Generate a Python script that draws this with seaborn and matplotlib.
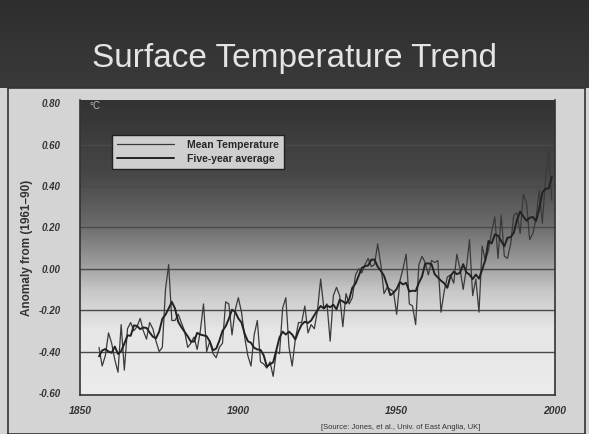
import numpy as np
import pandas as pd
import matplotlib
matplotlib.use("Agg")
import matplotlib.pyplot as plt
import seaborn as sns
from matplotlib.colors import LinearSegmentedColormap

# ---- data (anomaly in deg C vs 1961-90) ----
years = list(range(1856, 2000))
mean_temp = [
    -0.38, -0.47, -0.42, -0.31, -0.36, -0.44, -0.50, -0.27, -0.49, -0.29,
    -0.26, -0.30, -0.28, -0.24, -0.30, -0.34, -0.26, -0.29, -0.35, -0.40,
    -0.38, -0.10, 0.02, -0.25, -0.25, -0.22, -0.26, -0.30, -0.38, -0.36,
    -0.33, -0.39, -0.30, -0.17, -0.40, -0.35, -0.41, -0.43, -0.38, -0.36,
    -0.16, -0.17, -0.32, -0.20, -0.14, -0.21, -0.33, -0.42, -0.47, -0.32,
    -0.25, -0.45, -0.46, -0.48, -0.45, -0.52, -0.40, -0.41, -0.19, -0.14,
    -0.38, -0.47, -0.34, -0.26, -0.26, -0.18, -0.31, -0.27, -0.29, -0.20,
    -0.05, -0.19, -0.17, -0.35, -0.13, -0.09, -0.13, -0.28, -0.12, -0.17,
    -0.14, -0.03, 0.00, -0.02, 0.02, 0.05, 0.01, 0.02, 0.12, 0.02,
    -0.12, -0.09, -0.10, -0.11, -0.22, -0.06, 0.00, 0.07, -0.17, -0.18,
    -0.27, 0.02, 0.06, 0.03, -0.03, 0.04, 0.03, 0.04, -0.21, -0.11,
    -0.04, -0.03, -0.07, 0.07, 0.00, -0.10, 0.00, 0.14, -0.13, -0.05,
    -0.21, 0.11, 0.04, 0.09, 0.18, 0.25, 0.05, 0.26, 0.06, 0.05,
    0.12, 0.26, 0.27, 0.17, 0.36, 0.32, 0.14, 0.17, 0.24, 0.38,
    0.22, 0.43, 0.57, 0.33,
]
y_ticks = [-0.60, -0.40, -0.20, 0.00, 0.20, 0.40, 0.60, 0.80]
y_tick_labels = ["-0.60", "-0.40", "-0.20", "0.00", "0.20", "0.40", "0.60", "0.80"]
x_ticks = [1850, 1900, 1950, 2000]
x_tick_labels = ["1850", "1900", "1950", "2000"]
series_names = ["Mean Temperature", "Five-year average"]

df = pd.DataFrame({"year": years, "anomaly": mean_temp})
df["smooth"] = df["anomaly"].rolling(5, center=True, min_periods=3).mean()

# ---- figure ----
sns.set_theme(style="white")
plt.rcParams["font.family"] = ["Liberation Sans", "DejaVu Sans"]

fig = plt.figure(figsize=(5.89, 4.34), dpi=100)
fig.patch.set_facecolor("#d4d4d4")

# title banner
ban = fig.add_axes([0, 1 - 88 / 434, 1, 88 / 434])
ban.set_xlim(0, 1); ban.set_ylim(0, 1)
grad_b = np.linspace(0, 1, 50).reshape(-1, 1)
ban.imshow(grad_b, extent=[0, 1, 0, 1], aspect="auto",
           cmap=LinearSegmentedColormap.from_list("b", ["#3a3a3a", "#2e2e2e"]),
           origin="lower")
ban.axis("off")
ban.text(0.5, 0.33, "Surface Temperature Trend", ha="center", va="center",
         color="#e4e4e4", fontsize=24)

# lower panel frame
frame = fig.add_axes([8 / 589, 0, 577 / 589, 346 / 434])
frame.set_xticks([]); frame.set_yticks([])
frame.patch.set_alpha(0)
for s in frame.spines.values():
    s.set_color("#333333"); s.set_linewidth(1.2)

# main plot
ax = fig.add_axes([80 / 589, 1 - 395 / 434, 475 / 589, 295 / 434])
ax.set_xlim(1850, 2000)
ax.set_ylim(-0.61, 0.815)

grad = np.linspace(0, 1, 200).reshape(-1, 1)
cmap_bg = LinearSegmentedColormap.from_list(
    "bg", [(0.0, "#ececec"), (0.22, "#e6e6e6"), (0.35, "#c8c8c8"),
           (0.45, "#9a9a9a"), (0.58, "#6a6a6a"), (0.75, "#474747"),
           (1.0, "#333333")])
ax.imshow(grad, extent=[1850, 2000, -0.61, 0.815], aspect="auto",
          cmap=cmap_bg, origin="lower", zorder=0)

for yv in [-0.40, -0.20, 0.00, 0.20, 0.40, 0.60]:
    ax.axhline(yv, color="#4a4a4a", lw=1.0, zorder=1)

sns.lineplot(data=df, x="year", y="anomaly", ax=ax, color="#3a3a3a",
             lw=0.9, label=series_names[0], zorder=3)
sns.lineplot(data=df, x="year", y="smooth", ax=ax, color="#222222",
             lw=1.4, label=series_names[1], zorder=4)

ax.set_xticks(x_ticks)
ax.set_xticklabels(x_tick_labels, fontsize=7.5, style="italic",
                   weight="bold", color="#333333")
ax.set_yticks(y_ticks)
ax.set_yticklabels(y_tick_labels, fontsize=7, style="italic",
                   weight="bold", color="#333333")
ax.tick_params(axis="x", pad=8, length=0)
ax.tick_params(axis="y", pad=14, length=0)
ax.set_xlabel("")
ax.set_ylabel("Anomaly from (1961\u201390)", fontsize=8.5, color="#333333",
              weight="bold", labelpad=4)
for s in ["left", "bottom", "right"]:
    ax.spines[s].set_color("#333333"); ax.spines[s].set_linewidth(1.2)
ax.spines["top"].set_visible(False)

ax.text(0.02, 0.995, "\u00b0C", transform=ax.transAxes, fontsize=7,
        color="#bbbbbb", va="top", ha="left")

leg = ax.legend(loc="upper left", bbox_to_anchor=(0.056, 0.9),
                frameon=True, fancybox=False, handlelength=5.5,
                handletextpad=1.2, borderpad=0.5, labelspacing=0.35,
                prop={"weight": "bold", "size": 7.5})
leg.get_frame().set_facecolor("#cfcfcf")
leg.get_frame().set_edgecolor("#222222")
leg.get_frame().set_alpha(1)

fig.text(0.68, 0.006, "[Source: Jones, et al., Univ. of East Anglia, UK]",
         fontsize=5.5, color="#333333", ha="center", va="bottom")

fig.savefig("out.png", dpi=100, facecolor=fig.get_facecolor())
